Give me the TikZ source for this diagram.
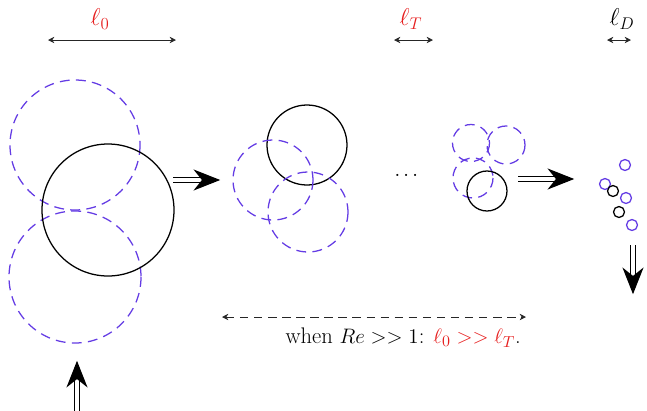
\documentclass[tikz,border=0pt]{standalone}
\usepackage{amssymb,amsmath}
\usepackage{xcolor}
\usepackage{tikz}
\usetikzlibrary{arrows.meta, positioning, calc}

\definecolor{eddyblue}{RGB}{100,60,228}
\definecolor{scalered}{RGB}{230,30,30}

\begin{document}
\begin{tikzpicture}[
    x=0.025cm, y=-0.025cm,
    % Define styles for the eddies
    eddy_old/.style={draw=black, line width=0.9pt},
    eddy_new/.style={draw=eddyblue, line width=0.9pt, dash pattern=on 7pt off 4.5pt},
    % Styles for arrows and labels
    scale_arrow/.style={{Stealth[length=4.5pt,width=4.5pt]}-{Stealth[length=4.5pt,width=4.5pt]}, line width=0.7pt, black!85},
    cascade/.style={double, double distance=2.4pt, line width=0.8pt, -{Stealth[length=19pt,width=15pt,inset=6pt]}, shorten >=-3pt},
    scale_label/.style={font=\fontsize{18}{21}\selectfont, text=scalered},
    note_label/.style={font=\fontsize{15.5}{18}\selectfont}
]
    \useasboundingbox (0,0) rectangle (647,410);

    % =========================================================================
    % LENGTH SCALES (top row)
    % =========================================================================
    \coordinate (l0_a) at (48,40);
    \coordinate (l0_b) at (176,40);
    \draw [scale_arrow] (l0_a) -- (l0_b);
    \node (l0_label) [scale_label] at (100,19) {$\ell_0$};

    \coordinate (lT_a) at (394,40);
    \coordinate (lT_b) at (433,40);
    \draw [scale_arrow] (lT_a) -- (lT_b);
    \node (lT_label) [scale_label] at (411,19) {$\ell_T$};

    \coordinate (lD_a) at (607,40);
    \coordinate (lD_b) at (631,40);
    \draw [scale_arrow] (lD_a) -- (lD_b);
    \node (lD_label) [scale_label, text=black] at (622,19) {$\ell_D$};

    % =========================================================================
    % LARGE EDDIES
    % =========================================================================
    \draw [eddy_new] (75,145) circle (65);
    \draw [eddy_new] (75,277) circle (66);
    \draw [eddy_old] (108,210) circle (66);

    \coordinate (step1_a) at (173,180);
    \coordinate (step1_b) at (216,180);
    \draw [cascade] (step1_a) -- (step1_b);

    % =========================================================================
    % INTERMEDIATE EDDIES
    % =========================================================================
    \draw [eddy_old] (307,145) circle (40);
    \draw [eddy_new] (273,180) circle (40);
    \draw [eddy_new] (308,212) circle (40);

    \node (dots) [note_label] at (408,176) {$\cdots$};

    % =========================================================================
    % SMALL EDDIES
    % =========================================================================
    \draw [eddy_new] (471,143) circle (18.5);
    \draw [eddy_new] (506,145) circle (19);
    \draw [eddy_new] (473,178) circle (20);
    \draw [eddy_old] (487,191) circle (20);

    \coordinate (step2_a) at (518,179);
    \coordinate (step2_b) at (570,179);
    \draw [cascade] (step2_a) -- (step2_b);

    % =========================================================================
    % DISSIPATIVE EDDIES
    % =========================================================================
    \foreach \cx/\cy in {625/165, 605/184, 626/198, 632/225}
        \draw [eddy_new, solid] (\cx,\cy) circle (5.5);
    \foreach \cx/\cy in {613/191, 619/212}
        \draw [eddy_old] (\cx,\cy) circle (5.5);

    \coordinate (diss_a) at (633,245);
    \coordinate (diss_b) at (633,290);
    \draw [cascade] (diss_a) -- (diss_b);

    % Energy input from below
    \coordinate (input_a) at (77,412);
    \coordinate (input_b) at (77,365);
    \draw [cascade] (input_a) -- (input_b);

    % =========================================================================
    % SCALE SEPARATION NOTE
    % =========================================================================
    \coordinate (sep_a) at (222,317);
    \coordinate (sep_b) at (526,317);
    \draw [scale_arrow, dash pattern=on 6pt off 4pt] (sep_a) -- (sep_b);
    \node (sep_note) [note_label, scale=1.035, transform shape, anchor=north east] at (526,323)
        {when $Re >> 1$: \textcolor{scalered}{$\ell_0 >> \ell_T$}.};

\end{tikzpicture}
\end{document}
